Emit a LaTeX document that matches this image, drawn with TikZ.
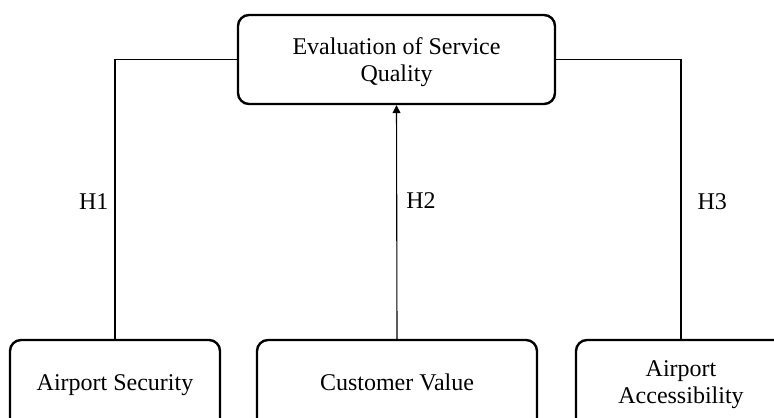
\documentclass[tikz,border=0pt]{standalone}
\usepackage{fontspec}
\setmainfont{Liberation Serif}
\usetikzlibrary{arrows.meta}

\begin{document}
\begin{tikzpicture}[
        x=0.5pt, y=-0.5pt,
        every node/.style={font=\fontsize{12}{13.5}\selectfont, align=center},
        factor/.style={draw, rounded corners=5.5pt, line width=1.2pt, inner sep=0pt},
        oneline/.style={text height=8.5pt, text depth=2.6pt},
        link/.style={line width=0.55pt},
        hyp/.style={inner sep=0pt}
    ]
        \useasboundingbox (0,0) rectangle (774,417);
        \clip (0,0) rectangle (774,417);

        % Biến phụ thuộc ở trên
        \node[factor, minimum width=158.5pt, minimum height=44.5pt] (quality) at (396.5,59.5) {\rule{0pt}{11.5pt}Evaluation of Service\\Quality};

        % Ba yếu tố ở dưới
        \node[factor, oneline, minimum width=105pt, minimum height=45pt] (security) at (115,385) {Airport Security};
        \node[factor, oneline, minimum width=140pt, minimum height=45pt] (value) at (397,385) {Customer Value};
        \node[factor, minimum width=105pt, minimum height=45pt] (access) at (681,385) {Airport\\Accessibility};

        % Các giả thuyết
        \draw[link] (security.north) |- node[hyp, pos=0.246, left=3pt] {H1} (quality.west);
        \draw[link, -{Triangle[length=4pt, width=4pt]}] (value.north) -- node[hyp, pos=0.59, right=4.5pt] {H2} (quality.south);
        \draw[link] (access.north) |- node[hyp, pos=0.246, right=8pt] {H3} (quality.east);
    \end{tikzpicture}
\end{document}
